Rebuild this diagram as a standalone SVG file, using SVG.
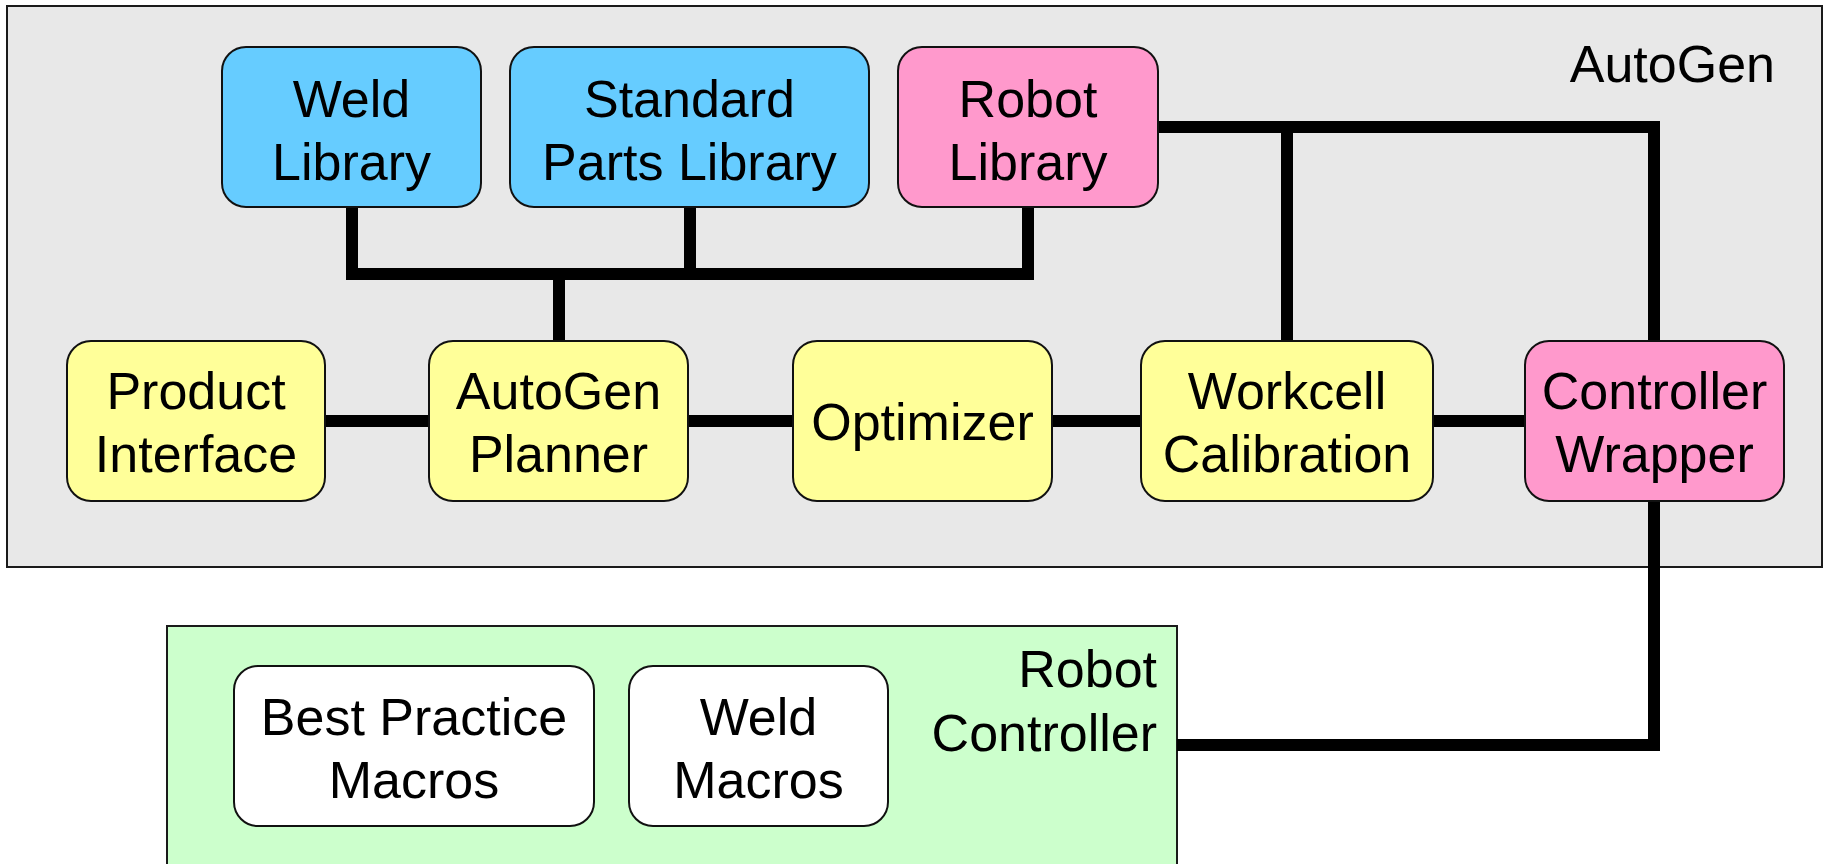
<svg xmlns="http://www.w3.org/2000/svg" width="1824" height="864" viewBox="0 0 1824 864">
  <style>
    .container { stroke: #1a1a1a; stroke-width: 2; }
    .box { stroke: #111; stroke-width: 2; }
    .blue { fill: #66ccff; }
    .pink { fill: #ff99cc; }
    .yellow { fill: #ffff99; }
    .white { fill: #ffffff; }
    .wire { fill: none; stroke: #000; stroke-width: 12; stroke-linejoin: miter; stroke-linecap: butt; }
    text { font-family: "Liberation Sans", Arial, sans-serif; font-size: 52px; fill: #000; }
    .c { text-anchor: middle; }
    .r { text-anchor: end; }
  </style>

  <!-- containers -->
  <g id="autogen">
    <rect class="container" x="7" y="6" width="1815" height="561" fill="#e8e8e8"/>
    <text class="r" x="1775" y="82">AutoGen</text>
  </g>
  <g id="robot-controller">
    <rect class="container" x="167" y="626" width="1010" height="250" fill="#ccffcc"/>
    <text class="r" x="1157" y="687">Robot</text>
    <text class="r" x="1157" y="751">Controller</text>
  </g>

  <!-- connectors -->
  <g id="connectors">
    <polyline class="wire" points="352,207 352,274 559,274 559,341"/>
    <polyline class="wire" points="690,207 690,274 559,274"/>
    <polyline class="wire" points="1028,207 1028,274 690,274"/>
    <line class="wire" x1="325" y1="421" x2="429" y2="421"/>
    <line class="wire" x1="688" y1="421" x2="793" y2="421"/>
    <line class="wire" x1="1052" y1="421" x2="1141" y2="421"/>
    <line class="wire" x1="1433" y1="421" x2="1525" y2="421"/>
    <polyline class="wire" points="1158,127 1654,127 1654,341"/>
    <line class="wire" x1="1287" y1="121" x2="1287" y2="341"/>
    <polyline class="wire" points="1654,501 1654,745 1177,745"/>
  </g>

  <!-- libraries -->
  <g id="weld-library">
    <rect class="box blue" x="222" y="47" width="259" height="160" rx="24" ry="24"/>
    <text class="c" x="351.5" y="117">Weld</text>
    <text class="c" x="351.5" y="180">Library</text>
  </g>
  <g id="standard-parts-library">
    <rect class="box blue" x="510" y="47" width="359" height="160" rx="24" ry="24"/>
    <text class="c" x="689.5" y="117">Standard</text>
    <text class="c" x="689.5" y="180">Parts Library</text>
  </g>
  <g id="robot-library">
    <rect class="box pink" x="898" y="47" width="260" height="160" rx="24" ry="24"/>
    <text class="c" x="1028" y="117">Robot</text>
    <text class="c" x="1028" y="180">Library</text>
  </g>

  <!-- processing chain -->
  <g id="product-interface">
    <rect class="box yellow" x="67" y="341" width="258" height="160" rx="24" ry="24"/>
    <text class="c" x="196" y="409">Product</text>
    <text class="c" x="196" y="472">Interface</text>
  </g>
  <g id="autogen-planner">
    <rect class="box yellow" x="429" y="341" width="259" height="160" rx="24" ry="24"/>
    <text class="c" x="558.5" y="409">AutoGen</text>
    <text class="c" x="558.5" y="472">Planner</text>
  </g>
  <g id="optimizer">
    <rect class="box yellow" x="793" y="341" width="259" height="160" rx="24" ry="24"/>
    <text class="c" x="922.5" y="440">Optimizer</text>
  </g>
  <g id="workcell-calibration">
    <rect class="box yellow" x="1141" y="341" width="292" height="160" rx="24" ry="24"/>
    <text class="c" x="1287" y="409">Workcell</text>
    <text class="c" x="1287" y="472">Calibration</text>
  </g>
  <g id="controller-wrapper">
    <rect class="box pink" x="1525" y="341" width="259" height="160" rx="24" ry="24"/>
    <text class="c" x="1654.5" y="409">Controller</text>
    <text class="c" x="1654.5" y="472">Wrapper</text>
  </g>

  <!-- controller macros -->
  <g id="best-practice-macros">
    <rect class="box white" x="234" y="666" width="360" height="160" rx="24" ry="24"/>
    <text class="c" x="414" y="735">Best Practice</text>
    <text class="c" x="414" y="798">Macros</text>
  </g>
  <g id="weld-macros">
    <rect class="box white" x="629" y="666" width="259" height="160" rx="24" ry="24"/>
    <text class="c" x="758.5" y="735">Weld</text>
    <text class="c" x="758.5" y="798">Macros</text>
  </g>
</svg>
